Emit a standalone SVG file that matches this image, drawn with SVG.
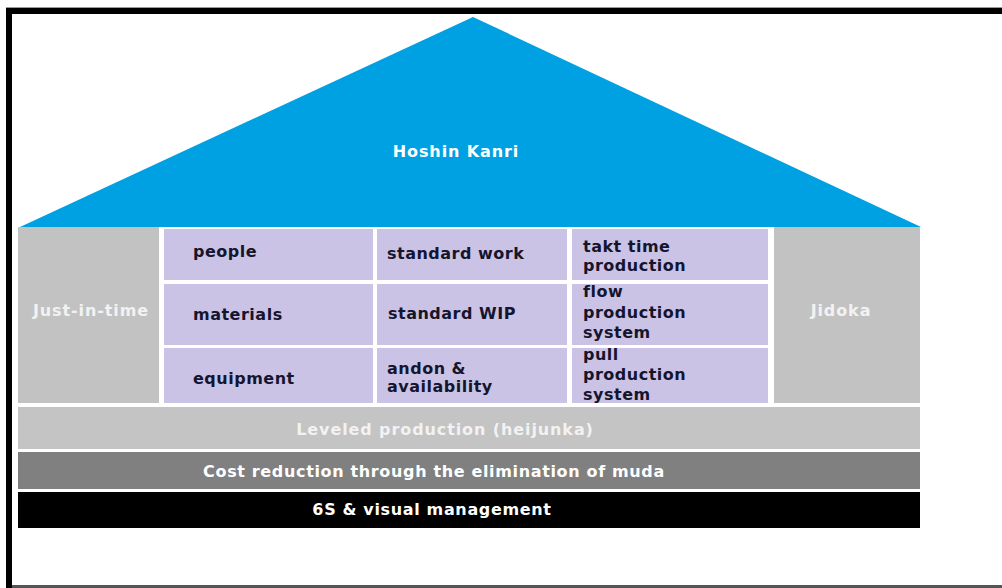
<svg xmlns="http://www.w3.org/2000/svg" width="1002" height="588" viewBox="0 0 1002 588">
  <style>
    text { font-family: "DejaVu Sans", Verdana, sans-serif; font-weight: bold; font-size: 16px; }
    .cell { fill: #cac3e5; }
    .pillar { fill: #c2c2c2; }
    .cellText { fill: #15152e; letter-spacing: 0.5px; }
    .light { fill: #f2f2f2; letter-spacing: 0.9px; text-anchor: middle; }
    .white { fill: #ffffff; letter-spacing: 0.65px; text-anchor: middle; }
  </style>

  <!-- page background and frame -->
  <rect x="0" y="0" width="1002" height="588" fill="#ffffff"/>
  <g id="frame">
    <rect x="6" y="7" width="996" height="1" fill="#9a9a9a"/>
    <rect x="6" y="8" width="996" height="6" fill="#000000"/>
    <rect x="6" y="8" width="6" height="580" fill="#000000"/>
    <rect x="12" y="585" width="990" height="3" fill="#555555"/>
  </g>

  <!-- roof -->
  <g id="hoshin-kanri">
    <polygon points="473,17 921,227 20,227" fill="#00a1e2"/>
    <text class="white" x="456" y="157" style="letter-spacing:0.9px">Hoshin Kanri</text>
  </g>

  <!-- left pillar -->
  <g id="just-in-time">
    <rect class="pillar" x="18" y="227" width="141" height="176"/>
    <text class="light" x="91" y="316">Just-in-time</text>
  </g>

  <!-- right pillar -->
  <g id="jidoka">
    <rect class="pillar" x="774" y="227" width="146" height="176"/>
    <text class="light" x="841" y="316">Jidoka</text>
  </g>

  <!-- centre grid, column 1 -->
  <g id="people">
    <rect class="cell" x="164" y="229" width="209" height="51"/>
    <text class="cellText" x="193" y="257">people</text>
  </g>
  <g id="materials">
    <rect class="cell" x="164" y="284" width="209" height="61"/>
    <text class="cellText" x="193" y="320">materials</text>
  </g>
  <g id="equipment">
    <rect class="cell" x="164" y="348" width="209" height="55"/>
    <text class="cellText" x="193" y="384">equipment</text>
  </g>

  <!-- centre grid, column 2 -->
  <g id="standard-work">
    <rect class="cell" x="377" y="229" width="190" height="51"/>
    <text class="cellText" x="387" y="259">standard work</text>
  </g>
  <g id="standard-wip">
    <rect class="cell" x="377" y="284" width="190" height="61"/>
    <text class="cellText" x="388" y="319">standard WIP</text>
  </g>
  <g id="andon">
    <rect class="cell" x="377" y="348" width="190" height="55"/>
    <text class="cellText" x="387" y="374">andon &amp;</text>
    <text class="cellText" x="387" y="392">availability</text>
  </g>

  <!-- centre grid, column 3 -->
  <g id="takt-time">
    <rect class="cell" x="572" y="229" width="196" height="51"/>
    <text class="cellText" x="583" y="252">takt time</text>
    <text class="cellText" x="583" y="271">production</text>
  </g>
  <g id="flow-production">
    <rect class="cell" x="572" y="284" width="196" height="61"/>
    <text class="cellText" x="583" y="297">flow</text>
    <text class="cellText" x="583" y="318">production</text>
    <text class="cellText" x="583" y="338">system</text>
  </g>
  <g id="pull-production">
    <rect class="cell" x="572" y="348" width="196" height="55"/>
    <text class="cellText" x="583" y="360">pull</text>
    <text class="cellText" x="583" y="380">production</text>
    <text class="cellText" x="583" y="400">system</text>
  </g>

  <!-- foundation bands -->
  <g id="leveled-production">
    <rect x="18" y="407" width="902" height="42" fill="#c4c4c4"/>
    <text class="light" x="445" y="435">Leveled production (heijunka)</text>
  </g>
  <g id="cost-reduction">
    <rect x="18" y="452" width="902" height="37" fill="#808080"/>
    <text class="white" x="434" y="477">Cost reduction through the elimination of muda</text>
  </g>
  <g id="visual-management">
    <rect x="18" y="492" width="902" height="36" fill="#000000"/>
    <text class="white" x="432" y="515">6S &amp; visual management</text>
  </g>
</svg>
